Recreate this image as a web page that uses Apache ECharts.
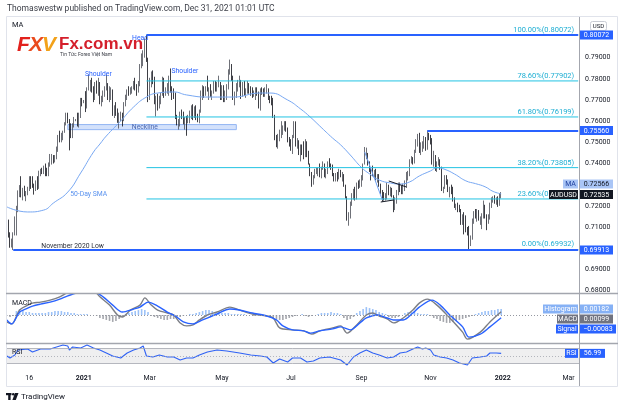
<!DOCTYPE html>
<html>
<head>
<meta charset="utf-8">
<script src="https://cdn.jsdelivr.net/npm/echarts@6/dist/echarts.min.js"></script>
<style>
  body { margin: 0; padding: 0; background: #fff; }
  #chart { width: 624px; height: 408px; }
</style>
</head>
<body>
<div id="chart"></div>
<script>
// one category per trading day, index 0 = Tue 27 Oct 2020, last candle 31 Dec 2021 (index 308)
var nCats = 357;
var firstOpen = 0.7115;

var closes = [
  0.7130, 0.7065, 0.7027, 0.7029,
  0.7067, 0.7130, 0.7183, 0.7264, 0.7283,  0.7253, 0.7273, 0.7253, 0.7255, 0.7279,
  0.7314, 0.7299, 0.7297, 0.7277, 0.7300,  0.7284, 0.7358, 0.7366, 0.7360, 0.7385,
  0.7356, 0.7352, 0.7400, 0.7416, 0.7433,  0.7415, 0.7425, 0.7463, 0.7526, 0.7522,
  0.7524, 0.7552, 0.7586, 0.7638, 0.7602,  0.7585, 0.7535, 0.7582, 0.7606, 0.7606,
  0.7580, 0.7622, 0.7702, 0.7692, 0.7692,  0.7684, 0.7755, 0.7775, 0.7778, 0.7767,
  0.7722, 0.7778, 0.7754, 0.7786, 0.7695,  0.7709, 0.7732, 0.7756, 0.7774, 0.7713,
  0.7724, 0.7747, 0.7633, 0.7663, 0.7649,  0.7618, 0.7621, 0.7625, 0.7610, 0.7684,
  0.7720, 0.7743, 0.7735, 0.7753, 0.7757,  0.7782, 0.7762, 0.7750, 0.7772, 0.7866,
  0.7907, 0.7917, 0.7986, 0.7895, 0.7706,  0.7771, 0.7812, 0.7797, 0.7694, 0.7702,
  0.7667, 0.7712, 0.7725, 0.7803, 0.7744,  0.7751, 0.7755, 0.7808, 0.7744, 0.7743,
  0.7723, 0.7617, 0.7589, 0.7589, 0.7636,  0.7625, 0.7589, 0.7602, 0.7601, 0.7618,
  0.7636, 0.7669, 0.7625, 0.7667, 0.7617,  0.7609, 0.7645, 0.7736, 0.7763, 0.7736,
  0.7755, 0.7746, 0.7748, 0.7720, 0.7736,  0.7779, 0.7755, 0.7776, 0.7780, 0.7717,
  0.7765, 0.7711, 0.7713, 0.7766, 0.7830,  0.7852, 0.7807, 0.7709, 0.7721, 0.7770,
  0.7784, 0.7790, 0.7723, 0.7776, 0.7735,  0.7735, 0.7761, 0.7755, 0.7740, 0.7724,
  0.7730, 0.7745, 0.7732, 0.7672, 0.7748,  0.7745, 0.7733, 0.7744, 0.7745, 0.7713,
  0.7703, 0.7689, 0.7623, 0.7527, 0.7479,  0.7530, 0.7538, 0.7546, 0.7571, 0.7587,
  0.7563, 0.7510, 0.7500, 0.7485, 0.7527,  0.7574, 0.7495, 0.7506, 0.7464, 0.7481,
  0.7457, 0.7455, 0.7512, 0.7444, 0.7398,  0.7344, 0.7312, 0.7340, 0.7364, 0.7366,
  0.7373, 0.7341, 0.7381, 0.7394, 0.7339,  0.7366, 0.7408, 0.7393, 0.7391, 0.7348,
  0.7335, 0.7341, 0.7340, 0.7360, 0.7347,  0.7347, 0.7293, 0.7238, 0.7134, 0.7159,
  0.7214, 0.7247, 0.7276, 0.7240, 0.7301,  0.7300, 0.7313, 0.7337, 0.7397, 0.7434,
  0.7447, 0.7397, 0.7376, 0.7373, 0.7353,  0.7364, 0.7326, 0.7343, 0.7298, 0.7262,
  0.7245, 0.7234, 0.7240, 0.7295, 0.7260,  0.7270, 0.7244, 0.7194, 0.7227, 0.7257,
  0.7301, 0.7293, 0.7262, 0.7300, 0.7308,  0.7348, 0.7350, 0.7415, 0.7417, 0.7414,
  0.7460, 0.7510, 0.7518, 0.7460, 0.7471,  0.7493, 0.7520, 0.7472, 0.7535, 0.7523,
  0.7515, 0.7403, 0.7449, 0.7375, 0.7399,  0.7408, 0.7380, 0.7272, 0.7280, 0.7336,
  0.7312, 0.7271, 0.7281, 0.7278, 0.7232,  0.7195, 0.7200, 0.7198, 0.7180, 0.7130,
  0.7138, 0.7125, 0.7087, 0.7081, 0.7041,  0.7047, 0.7136, 0.7159, 0.7151, 0.7180,
  0.7132, 0.7132, 0.7152, 0.7197, 0.7155,  0.7127, 0.7145, 0.7208, 0.7232, 0.7237,
  0.7216, 0.7217, 0.7215, 0.7247, 0.72535
];
var highs = [
  0.7158, 0.7135, 0.7075, 0.7045,
  0.7075, 0.7150, 0.7200, 0.7273, 0.7298,  0.7340, 0.7285, 0.7295, 0.7270, 0.7290,
  0.7340, 0.7340, 0.7340, 0.7305, 0.7320,  0.7340, 0.7366, 0.7375, 0.7380, 0.7390,
  0.7400, 0.7380, 0.7405, 0.7445, 0.7445,  0.7440, 0.7440, 0.7480, 0.7535, 0.7555,
  0.7545, 0.7555, 0.7595, 0.7640, 0.7640,  0.7610, 0.7590, 0.7590, 0.7620, 0.7610,
  0.7640, 0.7640, 0.7710, 0.7710, 0.7700,  0.7742, 0.7760, 0.7820, 0.7795, 0.7805,
  0.7765, 0.7785, 0.7792, 0.7805, 0.7785,  0.7720, 0.7745, 0.7765, 0.7820, 0.7780,
  0.7765, 0.7760, 0.7750, 0.7675, 0.7690,  0.7660, 0.7640, 0.7645, 0.7640, 0.7690,
  0.7725, 0.7750, 0.7765, 0.7760, 0.7765,  0.7790, 0.7805, 0.7775, 0.7790, 0.7870,
  0.7920, 0.7935, 0.7990, 0.8007, 0.7900,  0.7805, 0.7835, 0.7840, 0.7810, 0.7720,
  0.7730, 0.7720, 0.7735, 0.7810, 0.7805,  0.7760, 0.7780, 0.7815, 0.7849, 0.7765,
  0.7755, 0.7735, 0.7630, 0.7610, 0.7645,  0.7655, 0.7645, 0.7620, 0.7625, 0.7630,
  0.7650, 0.7675, 0.7680, 0.7670, 0.7675,  0.7635, 0.7655, 0.7745, 0.7770, 0.7765,
  0.7765, 0.7815, 0.7760, 0.7775, 0.7745,  0.7790, 0.7790, 0.7785, 0.7815, 0.7785,
  0.7770, 0.7770, 0.7745, 0.7775, 0.7845,  0.7891, 0.7870, 0.7815, 0.7740, 0.7780,
  0.7795, 0.7815, 0.7795, 0.7785, 0.7790,  0.7755, 0.7790, 0.7780, 0.7765, 0.7760,
  0.7745, 0.7760, 0.7760, 0.7740, 0.7755,  0.7760, 0.7755, 0.7760, 0.7775, 0.7755,
  0.7720, 0.7720, 0.7710, 0.7630, 0.7535,  0.7540, 0.7560, 0.7600, 0.7580, 0.7600,
  0.7600, 0.7570, 0.7525, 0.7515, 0.7535,  0.7600, 0.7599, 0.7520, 0.7510, 0.7490,
  0.7490, 0.7505, 0.7515, 0.7505, 0.7460,  0.7400, 0.7360, 0.7345, 0.7375, 0.7380,
  0.7380, 0.7400, 0.7385, 0.7410, 0.7400,  0.7375, 0.7410, 0.7425, 0.7400, 0.7395,
  0.7355, 0.7355, 0.7360, 0.7375, 0.7370,  0.7360, 0.7350, 0.7300, 0.7245, 0.7170,
  0.7220, 0.7260, 0.7280, 0.7290, 0.7310,  0.7320, 0.7325, 0.7345, 0.7400, 0.7478,
  0.7475, 0.7450, 0.7410, 0.7380, 0.7390,  0.7370, 0.7375, 0.7350, 0.7350, 0.7305,
  0.7275, 0.7265, 0.7260, 0.7310, 0.7300,  0.7290, 0.7285, 0.7250, 0.7240, 0.7275,
  0.7310, 0.7310, 0.7295, 0.7305, 0.7320,  0.7360, 0.7365, 0.7420, 0.7435, 0.7430,
  0.7465, 0.7515, 0.7540, 0.7545, 0.7500,  0.7505, 0.7530, 0.7525, 0.7556, 0.7545,
  0.7535, 0.7520, 0.7460, 0.7440, 0.7410,  0.7430, 0.7420, 0.7385, 0.7290, 0.7345,
  0.7345, 0.7325, 0.7290, 0.7300, 0.7290,  0.7240, 0.7210, 0.7215, 0.7205, 0.7185,
  0.7160, 0.7170, 0.7155, 0.7100, 0.7105,  0.7060, 0.7140, 0.7175, 0.7185, 0.7185,
  0.7180, 0.7150, 0.7165, 0.7225, 0.7205,  0.7160, 0.7160, 0.7215, 0.7240, 0.7245,
  0.7250, 0.7240, 0.7245, 0.7260, 0.7265
];
var lows = [
  0.7104, 0.7050, 0.7002, 0.7003,
  0.6991, 0.7060, 0.7060, 0.7170, 0.7241,  0.7240, 0.7226, 0.7245, 0.7222, 0.7250,
  0.7270, 0.7280, 0.7285, 0.7253, 0.7270,  0.7275, 0.7280, 0.7340, 0.7350, 0.7350,
  0.7340, 0.7340, 0.7340, 0.7385, 0.7395,  0.7400, 0.7405, 0.7420, 0.7455, 0.7500,
  0.7500, 0.7510, 0.7545, 0.7580, 0.7590,  0.7462, 0.7520, 0.7520, 0.7570, 0.7600,
  0.7575, 0.7570, 0.7615, 0.7670, 0.7685,  0.7643, 0.7660, 0.7745, 0.7740, 0.7735,
  0.7690, 0.7700, 0.7730, 0.7720, 0.7680,  0.7670, 0.7690, 0.7715, 0.7745, 0.7700,
  0.7690, 0.7700, 0.7625, 0.7615, 0.7625,  0.7592, 0.7565, 0.7600, 0.7575, 0.7600,
  0.7670, 0.7700, 0.7720, 0.7725, 0.7730,  0.7750, 0.7745, 0.7720, 0.7735, 0.7765,
  0.7850, 0.7860, 0.7900, 0.7880, 0.7690,  0.7700, 0.7760, 0.7775, 0.7680, 0.7622,
  0.7650, 0.7660, 0.7680, 0.7720, 0.7710,  0.7720, 0.7730, 0.7720, 0.7735, 0.7700,
  0.7705, 0.7610, 0.7580, 0.7560, 0.7575,  0.7610, 0.7585, 0.7560, 0.7531, 0.7590,
  0.7590, 0.7610, 0.7605, 0.7615, 0.7605,  0.7595, 0.7590, 0.7640, 0.7700, 0.7710,
  0.7720, 0.7740, 0.7700, 0.7715, 0.7700,  0.7730, 0.7740, 0.7740, 0.7760, 0.7700,
  0.7700, 0.7690, 0.7690, 0.7700, 0.7750,  0.7820, 0.7790, 0.7700, 0.7675, 0.7710,
  0.7740, 0.7760, 0.7705, 0.7715, 0.7720,  0.7710, 0.7730, 0.7730, 0.7720, 0.7710,
  0.7715, 0.7700, 0.7720, 0.7660, 0.7650,  0.7725, 0.7715, 0.7715, 0.7730, 0.7700,
  0.7685, 0.7675, 0.7615, 0.7510, 0.7477,  0.7470, 0.7505, 0.7520, 0.7535, 0.7555,
  0.7550, 0.7500, 0.7480, 0.7460, 0.7445,  0.7520, 0.7480, 0.7470, 0.7440, 0.7410,
  0.7440, 0.7420, 0.7430, 0.7430, 0.7395,  0.7340, 0.7290, 0.7300, 0.7330, 0.7350,
  0.7340, 0.7335, 0.7330, 0.7370, 0.7335,  0.7330, 0.7350, 0.7380, 0.7370, 0.7340,
  0.7315, 0.7315, 0.7315, 0.7325, 0.7335,  0.7315, 0.7290, 0.7235, 0.7130, 0.7106,
  0.7140, 0.7200, 0.7230, 0.7225, 0.7230,  0.7280, 0.7285, 0.7290, 0.7320, 0.7395,
  0.7420, 0.7390, 0.7360, 0.7320, 0.7340,  0.7330, 0.7320, 0.7310, 0.7290, 0.7255,
  0.7220, 0.7225, 0.7225, 0.7230, 0.7250,  0.7245, 0.7240, 0.7170, 0.7180, 0.7210,
  0.7250, 0.7265, 0.7255, 0.7255, 0.7270,  0.7285, 0.7320, 0.7340, 0.7400, 0.7395,
  0.7400, 0.7450, 0.7480, 0.7450, 0.7440,  0.7455, 0.7470, 0.7460, 0.7465, 0.7510,
  0.7490, 0.7395, 0.7385, 0.7365, 0.7360,  0.7390, 0.7370, 0.7270, 0.7260, 0.7280,
  0.7300, 0.7265, 0.7240, 0.7255, 0.7220,  0.7190, 0.7180, 0.7170, 0.7170, 0.7110,
  0.7110, 0.7065, 0.7075, 0.7060, 0.6993,  0.7010, 0.7040, 0.7115, 0.7140, 0.7125,
  0.7130, 0.7110, 0.7090, 0.7140, 0.7140,  0.7085, 0.7115, 0.7135, 0.7190, 0.7215,
  0.7210, 0.7205, 0.7195, 0.7200, 0.7235
];

// 50-day SMA, [day index, value]
var smaPts = [[0,0.7195],[13,0.7171],[23,0.7180],[29,0.7213],[38,0.7265],[46,0.7355],[54,0.7454],[58,0.7492],
  [62,0.7530],[71,0.7601],[79,0.7667],[87,0.7714],[94,0.7733],[104,0.7738],[112,0.7724],[125,0.7714],[141,0.7714],
  [158,0.7733],[164,0.7733],[175,0.7700],[183,0.7658],[189,0.7620],[195,0.7577],[203,0.7520],[208,0.7488],
  [214,0.7440],[221,0.7381],[226,0.7351],[232,0.7322],[239,0.7308],[245,0.7303],[251,0.7313],[257,0.7341],
  [264,0.7365],[268,0.7380],[273,0.7372],[279,0.7350],[286,0.7318],[292,0.7305],[298,0.7290],[303,0.7268],[308,0.72566]];

var macdPts = [[0,-0.0021],[3,-0.0027],[8,0.0015],[13,0.0030],[16,0.0036],[21,0.0039],[27,0.0045],[33,0.0055],
  [38,0.0068],[44,0.0074],[50,0.0074],[55,0.0070],[58,0.0055],[64,0.0030],[69,0],[72,-0.0006],[77,0.0015],
  [83,0.0030],[86,0.0052],[90,0.0030],[94,0.0015],[100,0.0006],[104,0],[108,-0.0024],[112,-0.0033],[116,-0.0030],
  [120,-0.0015],[125,0],[131,0.0009],[139,0.0024],[145,0.0015],[153,0.0003],[162,-0.0003],[166,-0.0009],
  [170,-0.0039],[178,-0.0045],[185,-0.0048],[190,-0.0058],[195,-0.0048],[203,-0.0039],[208,-0.0033],[212,-0.0055],
  [218,-0.0030],[224,0],[228,0.0006],[232,-0.0003],[237,-0.0012],[241,-0.0024],[247,-0.0009],[253,0.0015],
  [257,0.0036],[262,0.0048],[268,0.0030],[276,-0.0009],[284,-0.0052],[287,-0.0073],[295,-0.0052],[301,-0.0021],[308,0.00099]];

var signalPts = [[0,-0.0015],[3,-0.0027],[8,0.0009],[13,0.0021],[16,0.0027],[21,0.0033],[27,0.0039],[33,0.0048],
  [38,0.0058],[46,0.0068],[55,0.0068],[60,0.0055],[66,0.0030],[72,0.0009],[79,0.0018],[83,0.0024],[88,0.0039],
  [94,0.0027],[100,0.0009],[105,-0.0003],[110,-0.0021],[116,-0.0027],[122,-0.0015],[131,0.0003],[139,0.0018],
  [145,0.0015],[153,0.0006],[162,-0.0003],[168,-0.0015],[172,-0.0033],[178,-0.0045],[185,-0.0048],[189,-0.0055],
  [195,-0.0048],[203,-0.0042],[208,-0.0036],[214,-0.0045],[220,-0.0024],[224,-0.0009],[231,0],[237,-0.0009],
  [241,-0.0015],[247,-0.0015],[253,0.0006],[257,0.0024],[265,0.0045],[270,0.0030],[276,0],[284,-0.0036],
  [288,-0.0067],[295,-0.0058],[301,-0.0036],[308,-0.00083]];

// histogram, one value for every second day starting at index 0
var histVals = [-0.0003,-0.0006,-0.0003, 0.0012,0.0018,0.0015,
  0.0009,0.0009,0.0006,0.0006,0.0006,0.0006,0.0006,0.0009, 0.0009,0.0012,0.0012,0.0012,0.0009,0.0009,
  0.0006,0.0006,0.0003,0.0003,0.0003,0.0003,0,0, -0.0003,-0.0009,-0.0012,-0.0015,-0.0018,-0.0021,-0.0018,-0.0012,-0.0006,
  0.0003,0.0006,0.0009,0.0012,0.0015,0.0018,0.0015,0.0009,
  -0.0003,-0.0006,-0.0009,-0.0012,-0.0015,-0.0015,-0.0012,-0.0012,-0.0009,-0.0006,-0.0003,
  0,0.0003,0.0003,0.0006, 0.0009,0.0012,0.0015,0.0015,0.0012,0.0009,0.0009,
  0.0006,0.0006,0.0006,0.0003,0.0003,0.0003,0.0003,0.0003,0,0, -0.0003,0,-0.0003,-0.0003,-0.0003,-0.0006,
  -0.0009,-0.0012,-0.0015,-0.0015,-0.0012,-0.0009,-0.0006, -0.0003,0,0.0003,-0.0003,-0.0006,-0.0003,0,0.0003,
  0.0006,0.0006,0.0006,0.0009,0.0006,0.0006,0.0003, -0.0009,-0.0015,-0.0012,-0.0006,
  0.0006,0.0012,0.0018,0.0024,0.0021,0.0018, 0.0015,0.0009,0.0006,0.0003, -0.0006,-0.0009,-0.0009,-0.0006,
  0,0.0006,0.0009,0.0009,0.0009,0.0006, 0.0003,0.0003,0.0003,-0.0003,
  -0.0009,-0.0012,-0.0018,-0.0021,-0.0024,-0.0024,-0.0021,-0.0018,-0.0015,-0.0012,-0.0009, -0.0006,-0.0003,
  0.0003,0.0006,0.0009,0.0012,0.0012,0.0015,0.0015,0.0018,0.00182];

var rsiPts = [[0,50],[2,44.7],[5,52.7],[7,66],[13,68.7],[16,60.7],[21,68.7],[27,68.7],[31,74],[35,79.3],[38,76.7],
  [39,66],[41,74],[46,71.3],[50,79.3],[54,71.3],[58,66],[62,58],[66,50],[71,44.7],[75,58],[79,66],[83,71.3],[85,76.7],
  [87,50],[91,47.3],[95,52.7],[100,47.3],[104,47.3],[108,39.3],[112,44.7],[116,44.7],[120,52.7],[125,60.7],[131,66],
  [137,63.3],[141,60.7],[145,58],[152,52.7],[158,50],[162,47.3],[166,31.3],[170,42],[175,34],[178,44.7],[183,44.7],
  [187,34],[191,36.7],[195,44.7],[201,47.3],[208,39.3],[212,26],[216,47.3],[220,58],[224,66],[228,58],[232,52.7],
  [237,44.7],[241,47.3],[245,58],[249,60.7],[253,68.7],[256,74],[259,68.7],[261,71.3],[264,66],[266,52.7],[270,47.3],
  [274,44.7],[278,39.3],[282,31.3],[287,26],[288,20.7],[290,44.7],[295,47.3],[299,50],[301,58],[305,58],[308,56.99]];

var tickIdx = [14, 48, 89, 134, 177, 221, 264, 309, 350];
var tickText = ['16', '2021', 'Mar', 'May', 'Jul', 'Sep', 'Nov', '2022', 'Mar'];
var priceTicks = [0.68, 0.69, 0.71, 0.72, 0.74, 0.75, 0.76, 0.77, 0.78, 0.79];

var fibPct = ['100.00%', '78.60%', '61.80%', '38.20%', '23.60%', '0.00%'];
var fibVal = [0.80072, 0.77902, 0.76199, 0.73805, 0.72325, 0.69932];
var fibStart = 87;
var rays = [[87, 0.80072], [262, 0.75560], [4, 0.69913]];   // [start day, level]
var trendLines = [[[238, 0.73174], [249, 0.72890], '#131722'], [[233, 0.72181], [241, 0.72276], '#131722'],
  [[223, 0.74544], [234, 0.72276], '#6d9ff0']];
var neckline = [[38, 0.7584], [143, 0.7560]];
var notes = [['Head', 83.3, 0.79908, '#2962ff'], ['Shoulder', 57.4, 0.78230, '#2962ff'],
  ['Shoulder', 110.7, 0.78349, '#2962ff'], ['Neckline', 86.1, 0.75710, '#4a67b0'],
  ['50-Day SMA', 51.2, 0.72560, '#5b93ef'], ['November 2020 Low', 40.9, 0.70078, '#2a2e39']];

var cats = [];
for (var i = 0; i < nCats; i++) cats.push(String(i));

var candles = closes.map(function (c, i) {
  var o = i === 0 ? firstOpen : closes[i - 1];
  return [o, c, lows[i], highs[i]];
});
var hist = histVals.map(function (v, k) { return [k * 2, v]; });

var FONT = 'Roboto, Arial, sans-serif';
var FIB = '#22c3e3';
var chart = echarts.init(document.getElementById('chart'));

// blue rays and small trend lines (on the candle series)
var markLines = [];
rays.forEach(function (r) {
  markLines.push([{ coord: [r[0], r[1]], lineStyle: { color: '#2962ff', width: 2, type: 'solid' }, label: { show: false } },
    { coord: [nCats - 1, r[1]] }]);
});
trendLines.forEach(function (t) {
  markLines.push([{ coord: t[0], lineStyle: { color: t[2], width: 1, type: 'solid' }, label: { show: false } },
    { coord: t[1] }]);
});

// fib level lines: one plain line series per level; an invisible markLine carries the level label
var fibSeries = fibVal.map(function (v, k) {
  return { type: 'line', xAxisIndex: 0, yAxisIndex: 0, z: 4, symbol: 'none', silent: true,
    data: [[fibStart, v], [nCats - 1, v]],
    lineStyle: { color: FIB, width: 1 },
    markLine: { silent: true, symbol: ['none', 'none'], lineStyle: { color: 'rgba(0,0,0,0)', width: 1 },
      label: { show: true, position: 'insideEndTop', formatter: fibPct[k] + '(' + v.toFixed(5) + ')',
        color: '#1eaed3', fontSize: 7.5, fontFamily: FONT, distance: [4, 1] },
      data: [[{ coord: [fibStart, v] }, { coord: [nCats - 1, v] }]] } };
});

var xBase = { type: 'category', data: cats, axisLine: { show: false }, axisTick: { show: false }, splitLine: { show: false } };

chart.setOption({
  animation: false,
  backgroundColor: '#fff',
  grid: [
    { left: 6, top: 17, width: 573, height: 276 },
    { left: 6, top: 294, width: 573, height: 49 },
    { left: 6, top: 344, width: 573, height: 25 }
  ],
  xAxis: [
    Object.assign({ gridIndex: 0, axisLabel: { show: false } }, xBase),
    Object.assign({ gridIndex: 1, axisLabel: { show: false } }, xBase),
    Object.assign({ gridIndex: 2, axisLabel: {
      show: true, color: '#131722', fontSize: 7, fontFamily: FONT, margin: 6,
      customValues: tickIdx,
      formatter: function (v) {
        var k = tickIdx.indexOf(Number(v));
        var t = k >= 0 ? tickText[k] : '';
        return /^20/.test(t) ? '{b|' + t + '}' : t;
      },
      rich: { b: { fontWeight: 'bold', fontSize: 7, color: '#131722', fontFamily: FONT } }
    } }, xBase)
  ],
  yAxis: [
    { gridIndex: 0, type: 'value', position: 'right', min: 0.678812, max: 0.809225,
      splitLine: { show: false }, axisLine: { show: false }, axisTick: { show: false },
      axisLabel: { customValues: priceTicks, formatter: function (v) { return v.toFixed(5); },
        color: '#131722', fontSize: 7, fontFamily: FONT, margin: 6 } },
    { gridIndex: 1, type: 'value', min: -0.008485, max: 0.006364, show: false },
    { gridIndex: 2, type: 'value', min: 15.33, max: 82, show: false }
  ],
  series: [
    { type: 'candlestick', xAxisIndex: 0, yAxisIndex: 0, data: candles, barWidth: 1.2,
      itemStyle: { color: '#c4c7ce', color0: '#0c0e15', borderColor: '#4a4d55', borderColor0: '#0c0e15', borderWidth: 0.8 },
      markArea: { silent: true, data: [[{ coord: neckline[0], itemStyle: { color: 'rgba(98,148,240,0.28)', borderColor: '#93b6f3', borderWidth: 1 } },
        { coord: neckline[1] }]] },
      markLine: { silent: true, symbol: ['none', 'none'], data: markLines }
    },
    { type: 'line', xAxisIndex: 0, yAxisIndex: 0, data: smaPts, smooth: 0.5, symbol: 'none',
      lineStyle: { color: '#78a8f3', width: 1 } },
    { type: 'bar', xAxisIndex: 1, yAxisIndex: 1, data: hist, barWidth: 1.6,
      itemStyle: { color: function (p) { return p.value[1] >= 0 ? '#9cc2f8' : '#a5a7ad'; } },
      markLine: { silent: true, symbol: ['none', 'none'], label: { show: false },
        lineStyle: { color: '#9598a1', type: [1, 2], width: 1 }, data: [{ yAxis: 0 }] } },
    { type: 'line', xAxisIndex: 1, yAxisIndex: 1, data: macdPts, smooth: 0.3, symbol: 'none',
      lineStyle: { color: '#7c7e84', width: 1.4 } },
    { type: 'line', xAxisIndex: 1, yAxisIndex: 1, data: signalPts, smooth: 0.3, symbol: 'none',
      lineStyle: { color: '#2962ff', width: 1.4 } },
    { type: 'line', xAxisIndex: 2, yAxisIndex: 2, data: rsiPts, symbol: 'none',
      lineStyle: { color: '#2f62f5', width: 1.1 },
      markArea: { silent: true, itemStyle: { color: 'rgba(120,123,134,0.12)' }, data: [[{ yAxis: 70 }, { yAxis: 30 }]] },
      markLine: { silent: true, symbol: ['none', 'none'], label: { show: false }, data: [
        { yAxis: 70, lineStyle: { color: '#a3a6ae', type: 'solid', width: 0.8 } },
        { yAxis: 30, lineStyle: { color: '#a3a6ae', type: 'solid', width: 0.8 } },
        { yAxis: 50, lineStyle: { color: '#a3a6ae', type: [1, 2], width: 0.8 } }] } }
  ].concat(fibSeries)
});

// --- overlays: frame, titles, price tags ---
function txt(x, y, s, size, color, extra) {
  var st = { text: s, fill: color, font: size + 'px ' + FONT, align: 'left', verticalAlign: 'middle',
    textAlign: 'left', textVerticalAlign: 'middle' };
  for (var k in extra) st[k] = extra[k];
  return { type: 'text', x: x, y: y, z: 110, silent: true, style: st };
}
function line(x1, y1, x2, y2, color, w) {
  return { type: 'line', z: 90, silent: true, shape: { x1: x1, y1: y1, x2: x2, y2: y2 }, style: { stroke: color, lineWidth: w } };
}
function box(x, yc, w, bg, s, fg) {
  return [{ type: 'rect', z: 120, silent: true, shape: { x: x, y: yc - 4.5, width: w, height: 9 }, style: { fill: bg } },
    { type: 'text', z: 121, silent: true, x: x + w / 2, y: yc + 0.3,
      style: { text: s, fill: fg, font: '7px ' + FONT, align: 'center', verticalAlign: 'middle', textAlign: 'center', textVerticalAlign: 'middle' } }];
}
function py(axis, v) { return chart.convertToPixel({ yAxisIndex: axis }, v); }

var g = [];
g.push({ type: 'rect', z: 80, silent: true, shape: { x: 6.5, y: 16.5, width: 611, height: 370 },
  style: { fill: 'none', stroke: '#e0e3eb', lineWidth: 1 } });
g.push(line(579.5, 17, 579.5, 386, '#a3a6ae', 1));
g.push(line(6, 293.5, 618, 293.5, '#a3a6ae', 1.5));
g.push(line(6, 343.5, 618, 343.5, '#a3a6ae', 1.5));

g.push(txt(7, 9, 'Thomaswestw published on TradingView.com, Dec 31, 2021 01:01 UTC', 8.5, '#3b3e47'));
g.push(txt(12, 25.5, 'MA', 7.5, '#131722'));
g.push(txt(12, 303, 'MACD', 7, '#131722'));
g.push(txt(12, 352, 'RSI', 7, '#131722'));
g.push({ type: 'rect', z: 110, silent: true, shape: { x: 590.5, y: 21.5, width: 16, height: 9, r: 2 },
  style: { fill: '#fff', stroke: '#c9ccd4', lineWidth: 1 } });
g.push(txt(598.5, 26.2, 'USD', 6, '#131722', { align: 'center', textAlign: 'center' }));

// watermark logo
g.push(txt(17, 45, 'F', 21, '#e2211c', { font: 'italic 900 21px "Liberation Sans", Arial' }));
g.push(txt(29, 45, 'X', 21, '#ea4a1c', { font: 'italic 900 21px "Liberation Sans", Arial' }));
g.push(txt(42, 45, 'V', 21, '#f2a11a', { font: 'italic 900 21px "Liberation Sans", Arial' }));
g.push(txt(59, 44, 'Fx.com.vn', 17, '#d41f2b', { font: 'bold 17px "Liberation Sans", Arial' }));
g.push(txt(60, 55, 'Tin Tức Forex Việt Nam', 5, '#3b3e47'));

// bottom TradingView mark
g.push({ type: 'rect', z: 110, silent: true, shape: { x: 6, y: 393, width: 5.5, height: 2.2 }, style: { fill: '#131722' } });
g.push({ type: 'rect', z: 110, silent: true, shape: { x: 8.2, y: 393, width: 2.4, height: 7 }, style: { fill: '#131722' } });
g.push({ type: 'circle', z: 110, silent: true, shape: { cx: 13.3, cy: 394.3, r: 1.3 }, style: { fill: '#131722' } });
g.push({ type: 'polygon', z: 110, silent: true, shape: { points: [[15, 393], [18.5, 393], [15.8, 400], [12.4, 400]] }, style: { fill: '#131722' } });
g.push(txt(21, 396.5, 'TradingView', 8, '#131722'));

// chart annotations placed in data coordinates
notes.forEach(function (n) {
  var p = chart.convertToPixel({ xAxisIndex: 0, yAxisIndex: 0 }, [n[1], n[2]]);
  g.push(txt(p[0], p[1], n[0], 6.8, n[3], { align: 'center', textAlign: 'center' }));
});

// axis tags
var blue = '#2962ff';
[0.80072, 0.75560, 0.69913].forEach(function (v) {
  g = g.concat(box(580, py(0, v), 33, blue, v.toFixed(5), '#fff'));
});
var yPrice = py(0, 0.72535);
g = g.concat(box(549, yPrice, 29, '#131722', 'AUDUSD', '#fff'));
g = g.concat(box(580, yPrice, 33, '#131722', '0.72535', '#fff'));
var yMa = Math.min(py(0, 0.72566), yPrice - 10.5);
g = g.concat(box(563, yMa, 15, '#a9c5f6', 'MA', '#1d3f9e'));
g = g.concat(box(580, yMa, 33, '#a9c5f6', '0.72566', '#131722'));

var yH = py(1, 0.00182);
var yM = Math.max(py(1, 0.00099), yH + 10);
var yS = Math.max(py(1, -0.00083), yM + 10);
g = g.concat(box(543, yH, 35, '#86b1f5', 'Histogram', '#fff'), box(580, yH, 33, '#86b1f5', '0.00182', '#fff'));
g = g.concat(box(557, yM, 21, '#707380', 'MACD', '#fff'), box(580, yM, 33, '#707380', '0.00099', '#fff'));
g = g.concat(box(556, yS, 22, blue, 'Signal', '#fff'), box(580, yS, 36, blue, '\u22120.00083', '#fff'));
var yR = py(2, 56.99);
g = g.concat(box(565, yR, 13, blue, 'RSI', '#fff'), box(580, yR, 25, blue, '56.99', '#fff'));

chart.setOption({ graphic: g });
</script>
</body>
</html>
